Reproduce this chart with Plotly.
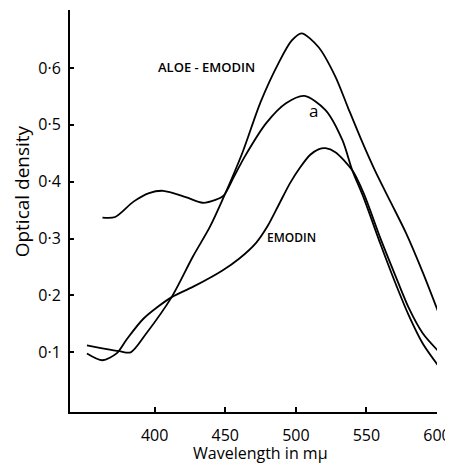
import plotly.graph_objects as go

# Wavelength (m\u03bc) and optical density
aloe_wl = [352, 365, 375, 383, 394, 412, 427, 439, 448, 462, 475, 488, 497, 504, 516, 528, 537, 547, 556, 567, 578, 590, 601]
aloe_od = [0.112, 0.106, 0.102, 0.100, 0.133, 0.197, 0.268, 0.320, 0.368, 0.450, 0.540, 0.610, 0.648, 0.661, 0.637, 0.585, 0.530, 0.470, 0.420, 0.365, 0.310, 0.240, 0.170]

a_wl = [363, 372, 385, 396, 406, 422, 434, 443, 449, 456, 464, 479, 493, 506, 521, 533, 540, 548, 560, 570, 580, 590, 601]
a_od = [0.337, 0.338, 0.365, 0.380, 0.384, 0.373, 0.363, 0.368, 0.376, 0.408, 0.445, 0.503, 0.538, 0.551, 0.526, 0.473, 0.420, 0.372, 0.290, 0.225, 0.165, 0.115, 0.076]

emodin_wl = [352, 363, 373, 380, 392, 412, 427, 448, 460, 472, 480, 488, 496, 503, 510, 516, 521, 528, 540, 548, 560, 570, 580, 590, 601]
emodin_od = [0.098, 0.086, 0.098, 0.122, 0.159, 0.197, 0.215, 0.244, 0.265, 0.293, 0.322, 0.360, 0.398, 0.425, 0.447, 0.457, 0.459, 0.452, 0.420, 0.380, 0.300, 0.238, 0.178, 0.133, 0.102]

x_ticks = [400, 450, 500, 550, 600]
y_ticks = [0.1, 0.2, 0.3, 0.4, 0.5, 0.6]
y_tick_text = ["0\u00b71", "0\u00b72", "0\u00b73", "0\u00b74", "0\u00b75", "0\u00b76"]

FONT = "Open Sans"
line = dict(color="black", width=1.8, shape="spline", smoothing=0.8)

fig = go.Figure()
for wl, od, name in [(aloe_wl, aloe_od, "Aloe-emodin"), (a_wl, a_od, "a"), (emodin_wl, emodin_od, "Emodin")]:
    fig.add_trace(go.Scatter(x=wl, y=od, mode="lines", line=line, name=name, showlegend=False))

# page body has an 8px margin: figure 445x457 placed at (8,8) so the page does not scroll
fig.update_layout(
    width=445, height=457,
    margin=dict(l=62, r=13, t=2, b=53),
    paper_bgcolor="white", plot_bgcolor="white",
    font=dict(family=FONT, color="black", size=15),
    xaxis=dict(range=[340, 600], tickvals=x_ticks, ticks="inside", ticklen=5, tickwidth=1.5,
               tickcolor="black", showline=True, linecolor="black", linewidth=2,
               showgrid=False, zeroline=False, tickfont=dict(size=16, family=FONT),
               ticklabelstandoff=8, ticklabeloverflow="allow"),
    yaxis=dict(range=[-0.005, 0.702], tickvals=y_ticks, ticktext=y_tick_text, ticks="inside",
               ticklen=4, tickwidth=1.5, tickcolor="black", showline=True, linecolor="black",
               linewidth=2, showgrid=False, zeroline=False, tickfont=dict(size=16, family=FONT),
               ticklabelstandoff=4),
    annotations=[
        dict(text="Optical density", xref="paper", yref="paper", x=-0.1324, y=0.55,
             textangle=-90, showarrow=False, font=dict(size=19, family=FONT),
             xanchor="center", yanchor="middle"),
        dict(text="Wavelength in m\u03bc", xref="paper", yref="paper", x=0.519, y=-0.102,
             showarrow=False, font=dict(size=16, family=FONT), xanchor="center", yanchor="middle"),
        dict(text="ALOE - EMODIN", x=436.6, y=0.602, showarrow=False,
             font=dict(size=13, family=FONT, weight=600), xanchor="center", yanchor="middle"),
        dict(text="EMODIN", x=497, y=0.302, showarrow=False,
             font=dict(size=12, family=FONT, weight=600), xanchor="center", yanchor="middle"),
        dict(text="a", x=512.6, y=0.526, showarrow=False,
             font=dict(size=17, family=FONT), xanchor="center", yanchor="middle"),
    ],
)

fig.write_html("out.html")
